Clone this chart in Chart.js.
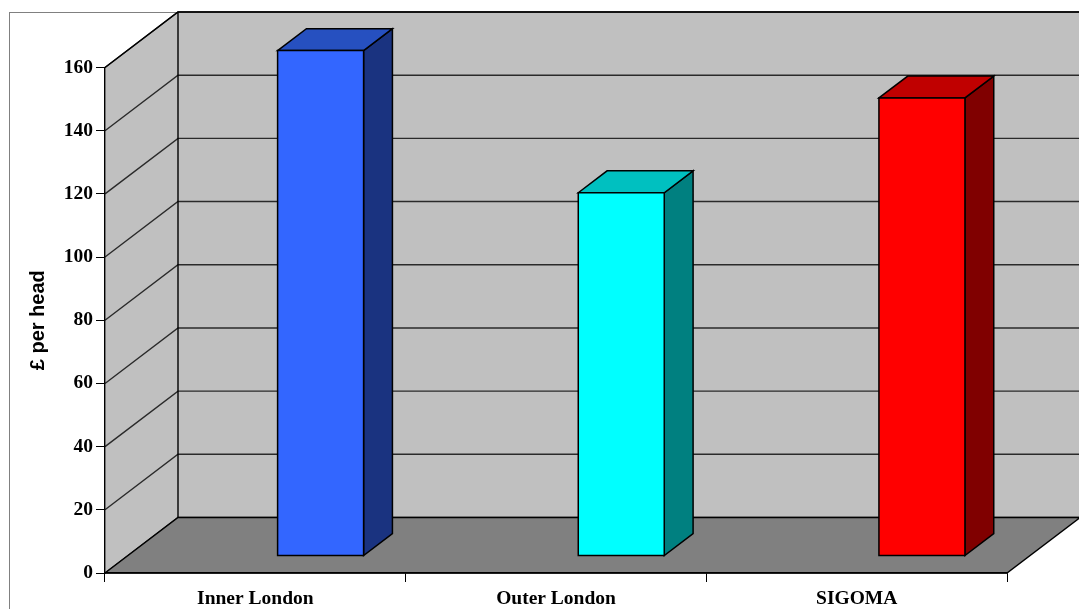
<!DOCTYPE html>
<html>
<head>
<meta charset="utf-8">
<script src="https://cdn.jsdelivr.net/npm/chart.js@4.4.0/dist/chart.umd.min.js"></script>
<style>
  html, body { margin: 0; padding: 0; background: #fff; }
  #wrap { width: 1079px; height: 609px; position: relative; }
</style>
</head>
<body>
<div id="wrap"><canvas id="c"></canvas></div>
<script>
// data
const categories = ['Inner London', 'Outer London', 'SIGOMA'];
const perHead = [160, 115, 145];
const frontColours = ['#3366ff', '#00ffff', '#ff0000'];
const topColours = ['#2650c0', '#00c0c0', '#c00000'];
const sideColours = ['#1a3380', '#008080', '#800000'];
const yMax = 160, yStep = 20;

// oblique 3D look (Excel style)
const DX = 73, DY = -55.5;          // full depth of the floor
const BAR_FRONT = 0.305, BAR_BACK = 0.7;

function poly(ctx, pts, fill, stroke, lw) {
    ctx.beginPath();
    ctx.moveTo(pts[0][0], pts[0][1]);
    for (let i = 1; i < pts.length; i++) ctx.lineTo(pts[i][0], pts[i][1]);
    ctx.closePath();
    if (fill) { ctx.fillStyle = fill; ctx.fill(); }
    if (stroke) { ctx.strokeStyle = stroke; ctx.lineWidth = lw || 1; ctx.stroke(); }
}

const walls3d = {
    id: 'walls3d',
    beforeDraw(chart) {
        const {ctx, chartArea: a, scales: {y}} = chart;
        const y0 = y.getPixelForValue(0), yT = y.getPixelForValue(y.max);
        const bx = a.left + DX, rx = a.right + DX;
        ctx.save();
        // outer frame
        ctx.strokeStyle = '#808080'; ctx.lineWidth = 1;
        ctx.strokeRect(9.5, 12.5, chart.width + 20, chart.height + 20);
        // side wall + back wall
        poly(ctx, [[a.left, yT], [bx, yT + DY], [bx, y0 + DY], [a.left, y0]], '#c0c0c0');
        poly(ctx, [[bx, yT + DY], [rx + 2, yT + DY], [rx + 2, y0 + DY], [bx, y0 + DY]], '#c0c0c0');
        // gridlines on both walls
        ctx.lineWidth = 1.4; ctx.strokeStyle = '#2a2a2a';
        y.ticks.forEach(t => {
            const p = y.getPixelForValue(t.value);
            ctx.beginPath();
            ctx.moveTo(a.left, p); ctx.lineTo(bx, p + DY); ctx.lineTo(rx + 2, p + DY);
            ctx.stroke();
        });
        // wall edges
        ctx.strokeStyle = '#000'; ctx.lineWidth = 1.4;
        ctx.beginPath();
        ctx.moveTo(a.left, yT); ctx.lineTo(bx, yT + DY); ctx.lineTo(rx + 2, yT + DY);
        ctx.moveTo(bx, yT + DY); ctx.lineTo(bx, y0 + DY);
        ctx.stroke();
        // floor
        poly(ctx, [[a.left, y0], [a.right, y0], [rx, y0 + DY], [bx, y0 + DY]], '#808080', '#000', 1.4);
        ctx.restore();
    },
    afterDatasetsDraw(chart) {
        const {ctx} = chart;
        const meta = chart.getDatasetMeta(0);
        const ox = BAR_FRONT * DX, oy = BAR_FRONT * DY;
        const dx = (BAR_BACK - BAR_FRONT) * DX, dy = (BAR_BACK - BAR_FRONT) * DY;
        ctx.save();
        ctx.lineJoin = 'miter';
        meta.data.forEach((el, i) => {
            const L = el.x + ox, R = el.x + el.width + ox;
            const T = el.y + oy, B = el.base + oy;
            poly(ctx, [[R, T], [R + dx, T + dy], [R + dx, B + dy], [R, B]], sideColours[i], '#000', 1.5);
            poly(ctx, [[L, T], [L + dx, T + dy], [R + dx, T + dy], [R, T]], topColours[i], '#000', 1.5);
            poly(ctx, [[L, T], [R, T], [R, B], [L, B]], frontColours[i], '#000', 1.5);
        });
        ctx.restore();
    }
};

const serifBold = {family: "'Liberation Serif', 'Times New Roman', serif", size: 19.5, weight: 'bold'};

new Chart(document.getElementById('c'), {
    type: 'bar',
    data: {
        labels: categories,
        datasets: [{
            label: '£ per head',
            data: perHead,
            backgroundColor: 'rgba(0,0,0,0)',
            borderWidth: 0,
            barPercentage: 1,
            categoryPercentage: 0.286
        }]
    },
    options: {
        responsive: true,
        maintainAspectRatio: false,
        animation: false,
        events: [],
        layout: { padding: { left: 0, right: 72, top: 67.5, bottom: 0 } },
        plugins: {
            legend: { display: false },
            tooltip: { enabled: false }
        },
        scales: {
            x: {
                afterFit: s => { s.height = 36; },
                grid: { drawOnChartArea: false, offset: true, tickLength: 9, tickColor: '#000', tickWidth: 1 },
                border: { display: true, color: '#000', width: 1.4 },
                ticks: { color: '#000', font: serifBold, padding: 5, maxRotation: 0 }
            },
            y: {
                min: 0, max: yMax,
                afterFit: s => { s.width = 105; },
                grid: { drawOnChartArea: false, tickLength: 9, tickColor: '#000', tickWidth: 1 },
                border: { display: true, color: '#000', width: 1.4 },
                ticks: { stepSize: yStep, color: '#000', font: serifBold, padding: 3 },
                title: {
                    display: true,
                    text: '£ per head',
                    color: '#000',
                    font: {family: "'Liberation Sans', Arial, sans-serif", size: 20, weight: 'bold'},
                    padding: { top: 26, bottom: 0 }
                }
            }
        }
    },
    plugins: [walls3d]
});
</script>
</body>
</html>
